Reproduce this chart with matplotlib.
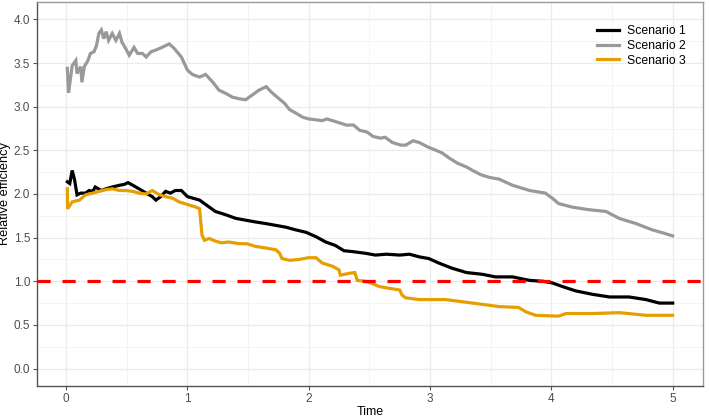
"""Relative efficiency over time for three scenarios."""

import matplotlib.pyplot as plt
from matplotlib.ticker import MultipleLocator

plt.rcParams["font.family"] = ["Liberation Sans", "DejaVu Sans"]
plt.rcParams["lines.scale_dashes"] = False

SERIES_NAMES = ["Scenario 1", "Scenario 2", "Scenario 3"]

time_1 = [0.01, 0.03, 0.05, 0.07, 0.09, 0.12, 0.16, 0.19, 0.22, 0.24,
          0.29, 0.33, 0.38, 0.44, 0.48, 0.51, 0.55, 0.60, 0.66, 0.71,
          0.74, 0.78, 0.82, 0.86, 0.90, 0.95, 1.00, 1.10, 1.18, 1.23,
          1.32, 1.40, 1.48, 1.56, 1.65, 1.73, 1.81, 1.89, 1.98, 2.06,
          2.14, 2.22, 2.29, 2.36, 2.47, 2.55, 2.64, 2.75, 2.83, 2.91,
          2.99, 3.07, 3.18, 3.30, 3.43, 3.54, 3.68, 3.82, 3.93, 4.01,
          4.09, 4.20, 4.34, 4.48, 4.64, 4.78, 4.89, 5.00]
efficiency_1 = [2.14, 2.12, 2.27, 2.16, 1.99, 2.01, 2.01, 2.04, 2.03, 2.08,
                2.04, 2.06, 2.08, 2.10, 2.11, 2.13, 2.10, 2.06, 2.01, 1.97,
                1.93, 1.97, 2.03, 2.01, 2.04, 2.04, 1.97, 1.93, 1.85, 1.80,
                1.76, 1.72, 1.70, 1.68, 1.66, 1.64, 1.62, 1.59, 1.56, 1.51,
                1.45, 1.41, 1.35, 1.34, 1.32, 1.30, 1.31, 1.30, 1.31, 1.28,
                1.26, 1.21, 1.15, 1.10, 1.08, 1.05, 1.05, 1.01, 1.00, 0.98,
                0.94, 0.89, 0.85, 0.82, 0.82, 0.79, 0.75, 0.75]

time_2 = [0.01, 0.015, 0.02, 0.05, 0.08, 0.09, 0.12, 0.13, 0.15, 0.18,
          0.20, 0.23, 0.25, 0.27, 0.29, 0.31, 0.33, 0.35, 0.38, 0.41,
          0.44, 0.46, 0.49, 0.52, 0.56, 0.59, 0.63, 0.66, 0.70, 0.74,
          0.79, 0.85, 0.89, 0.95, 1.00, 1.04, 1.10, 1.15, 1.21, 1.26,
          1.32, 1.37, 1.43, 1.48, 1.53, 1.59, 1.65, 1.69, 1.74, 1.80,
          1.84, 1.89, 1.95, 2.00, 2.06, 2.11, 2.15, 2.22, 2.31, 2.37,
          2.42, 2.48, 2.53, 2.59, 2.63, 2.69, 2.76, 2.80, 2.86, 2.91,
          2.98, 3.05, 3.10, 3.16, 3.23, 3.30, 3.35, 3.42, 3.49, 3.57,
          3.68, 3.82, 3.95, 4.01, 4.06, 4.17, 4.31, 4.45, 4.56, 4.70,
          4.83, 4.93, 5.00]
efficiency_2 = [3.44, 3.30, 3.16, 3.47, 3.53, 3.38, 3.46, 3.28, 3.46, 3.53,
                3.61, 3.63, 3.70, 3.84, 3.88, 3.78, 3.86, 3.76, 3.84, 3.76,
                3.84, 3.74, 3.67, 3.59, 3.68, 3.61, 3.61, 3.57, 3.63, 3.65,
                3.68, 3.72, 3.67, 3.57, 3.42, 3.37, 3.34, 3.37, 3.28, 3.19,
                3.15, 3.11, 3.09, 3.08, 3.13, 3.19, 3.23, 3.17, 3.11, 3.04,
                2.97, 2.93, 2.88, 2.86, 2.85, 2.84, 2.86, 2.83, 2.79, 2.79,
                2.73, 2.71, 2.66, 2.64, 2.65, 2.59, 2.56, 2.56, 2.61, 2.59,
                2.54, 2.50, 2.47, 2.41, 2.35, 2.31, 2.27, 2.22, 2.19, 2.17,
                2.10, 2.04, 2.01, 1.95, 1.89, 1.85, 1.82, 1.80, 1.72, 1.66,
                1.59, 1.55, 1.52]

time_3 = [0.01, 0.012, 0.05, 0.11, 0.16, 0.22, 0.27, 0.33, 0.38, 0.44,
          0.49, 0.55, 0.60, 0.66, 0.71, 0.77, 0.82, 0.88, 0.93, 1.00,
          1.07, 1.10, 1.12, 1.14, 1.18, 1.23, 1.28, 1.34, 1.43, 1.49,
          1.56, 1.65, 1.73, 1.76, 1.78, 1.84, 1.92, 2.00, 2.06, 2.11,
          2.20, 2.25, 2.26, 2.33, 2.38, 2.40, 2.47, 2.53, 2.58, 2.66,
          2.75, 2.77, 2.80, 2.91, 3.02, 3.13, 3.24, 3.35, 3.46, 3.57,
          3.73, 3.79, 3.87, 4.06, 4.12, 4.34, 4.56, 4.78, 5.00]
efficiency_3 = [2.06, 1.83, 1.91, 1.93, 1.99, 2.01, 2.03, 2.05, 2.06, 2.04,
                2.04, 2.03, 2.01, 2.00, 2.04, 1.99, 1.97, 1.95, 1.91, 1.88,
                1.85, 1.83, 1.53, 1.47, 1.49, 1.46, 1.44, 1.45, 1.43, 1.43,
                1.40, 1.38, 1.36, 1.32, 1.26, 1.24, 1.25, 1.27, 1.27, 1.21,
                1.17, 1.13, 1.07, 1.09, 1.10, 1.01, 1.00, 0.97, 0.94, 0.92,
                0.90, 0.84, 0.81, 0.79, 0.79, 0.79, 0.77, 0.75, 0.73, 0.71,
                0.70, 0.65, 0.61, 0.60, 0.63, 0.63, 0.64, 0.61, 0.61]

REFERENCE_LEVEL = 1.0

COLORS = ["#000000", "#999999", "#E69F00"]


def main() -> None:
    figure = plt.figure(figsize=(7.09, 4.18), dpi=100)
    axes = figure.add_axes([0.0522, 0.0766, 0.9393, 0.9186])

    series = [(time_1, efficiency_1), (time_2, efficiency_2), (time_3, efficiency_3)]
    for (times, values), name, color in zip(series, SERIES_NAMES, COLORS):
        axes.plot(times, values, color=color, linewidth=2.3, label=name,
                  solid_joinstyle="miter", zorder=3)

    axes.axhline(REFERENCE_LEVEL, color="#ff0000", linewidth=2.3,
                 linestyle=(0, (9.5, 8.5)), zorder=4)

    axes.set_xlim(-0.24, 5.25)
    axes.set_ylim(-0.2, 4.2)
    axes.xaxis.set_major_locator(MultipleLocator(1))
    axes.xaxis.set_minor_locator(MultipleLocator(0.5))
    axes.yaxis.set_major_locator(MultipleLocator(0.5))
    axes.yaxis.set_minor_locator(MultipleLocator(0.25))
    axes.yaxis.set_major_formatter(lambda value, _: f"{value:.1f}")

    axes.grid(which="major", color="#ebebeb", linewidth=0.9)
    axes.grid(which="minor", color="#f3f3f3", linewidth=0.6)
    axes.set_axisbelow(True)

    axes.tick_params(which="major", length=3, width=0.8, color="#555555",
                     labelcolor="#4d4d4d", labelsize=8.5, pad=2)
    axes.tick_params(which="minor", length=0)

    for side in ("left", "bottom"):
        axes.spines[side].set_color("#555555")
        axes.spines[side].set_linewidth(1.0)
    for side in ("top", "right"):
        axes.spines[side].set_color("#9a9a9a")
        axes.spines[side].set_linewidth(1.0)

    axes.set_xlabel("Time", fontsize=9, labelpad=1)
    axes.set_ylabel("Relative efficiency", fontsize=9.2, labelpad=2)

    axes.legend(loc="upper left", bbox_to_anchor=(0.833, 0.952), frameon=False,
                fontsize=8.8, handlelength=1.8, handletextpad=0.7,
                labelspacing=0.22, borderaxespad=0)

    figure.savefig("out.png", dpi=100)


if __name__ == "__main__":
    main()
